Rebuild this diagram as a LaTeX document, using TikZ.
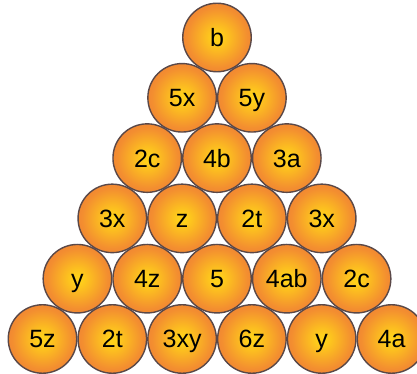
\documentclass[tikz,border=0pt]{standalone}
\usepackage{fontspec}
\setmainfont{Liberation Sans}
\definecolor{ballyel}{HTML}{FFD01A}
\definecolor{ballyel2}{HTML}{FBB822}
\definecolor{ballora}{HTML}{F38E30}
\definecolor{ballora2}{HTML}{EC7236}
\definecolor{balledge}{HTML}{D8543A}
\definecolor{ballline}{HTML}{5A4848}
\pgfdeclareradialshading{ballshade}{\pgfpoint{0bp}{0bp}}{color(0bp)=(ballyel); color(3bp)=(ballyel); color(10bp)=(ballyel2); color(22bp)=(ballora); color(37bp)=(ballora2); color(48bp)=(balledge); color(50bp)=(balledge)}
\tikzset{ball/.style={circle, minimum size=68.5pt, inner sep=0pt, shading=ballshade, draw=ballline, line width=1.4pt, font=\fontsize{25}{25}\selectfont, text=black, text height=18pt, text depth=0pt}}
\begin{document}
\begin{tikzpicture}[x=1pt,y=1pt]
\useasboundingbox (0,0) rectangle (417,374);
\def\dx{69.8}
\def\dy{60.3}
\foreach \row/\labels in {0/{b},1/{5x,5y},2/{2c,4b,3a},3/{3x,z,2t,3x},4/{y,4z,5,4ab,2c},5/{5z,2t,3xy,6z,y,4a}}{
  \foreach \lab [count=\i from 0] in \labels {
    \node[ball] (n\row\i) at ({217+(\i-\row/2)*\dx},{374-37.5-\row*\dy}) {\lab};
  }
}
\end{tikzpicture}
\end{document}
